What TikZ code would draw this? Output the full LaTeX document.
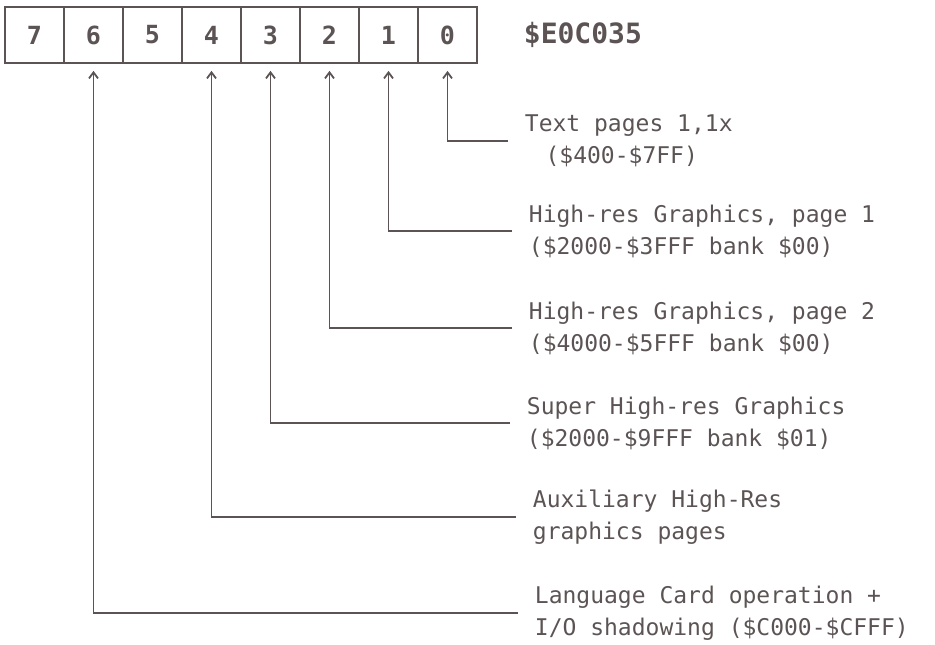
\documentclass[tikz,border=0pt]{standalone}
\usepackage{fontspec}
\usepackage{tikz}
\usetikzlibrary{arrows.meta}
\newfontfamily\regfont{DejaVu Sans Mono}
\definecolor{ink}{RGB}{92,84,84}

\begin{document}
\begin{tikzpicture}[x = 0.5pt, y = -0.5pt, line width = 0.9pt, color = ink,
  cell/.style = {rectangle, draw, minimum width = 29.5pt, minimum height = 28pt, inner sep = 0pt,
    font = \regfont\bfseries\fontsize{12.5}{13}\selectfont},
  lbl/.style = {anchor = west, inner xsep = 8pt, align = left,
    font = \regfont\fontsize{11.5}{16}\selectfont},
  tip/.style = {-{Straight Barb[length = 3pt, width = 4.5pt]}, shorten > = 3.5pt}]
\useasboundingbox (0,0) rectangle (935,644);
% register bits
\draw (34.5,35) node[cell](b7){7}
    (93.5,35) node[cell](b6){6}
    (152.5,35) node[cell](b5){5}
    (211.5,35) node[cell](b4){4}
    (270.5,35) node[cell](b3){3}
    (329.5,35) node[cell](b2){2}
    (388.5,35) node[cell](b1){1}
    (447.5,35) node[cell](b0){0};
\draw (523,35) node[anchor = west, inner sep = 0pt, font = \regfont\bfseries\fontsize{14}{14}\selectfont](reg){\$E0C035};
% bit meanings
\draw (508,141) node[lbl](t0){Text pages 1,1x\\\hspace*{0.9em}(\$400-\$7FF)}
    (512,231) node[lbl](t1){High-res Graphics, page 1\\(\$2000-\$3FFF bank \$00)}
    (512,328) node[lbl](t2){High-res Graphics, page 2\\(\$4000-\$5FFF bank \$00)}
    (510,423) node[lbl](t3){Super High-res Graphics\\(\$2000-\$9FFF bank \$01)}
    (516,517) node[lbl](t4){Auxiliary High-Res\\graphics pages}
    (518,613) node[lbl](t6){Language Card operation +\\I/O shadowing (\$C000-\$CFFF)};
    \draw [tip] (t0.west) -| (b0.south);
    \draw [tip] (t1.west) -| (b1.south);
    \draw [tip] (t2.west) -| (b2.south);
    \draw [tip] (t3.west) -| (b3.south);
    \draw [tip] (t4.west) -| (b4.south);
    \draw [tip] (t6.west) -| (b6.south);
\end{tikzpicture}
\end{document}
